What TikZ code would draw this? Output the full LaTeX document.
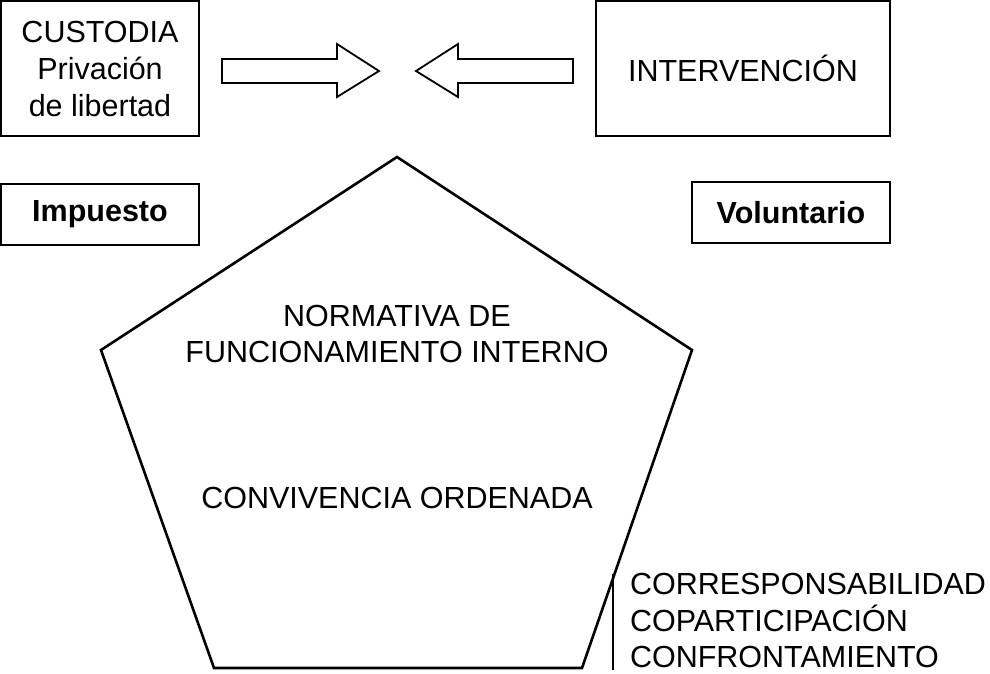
\documentclass[tikz,border=0pt]{standalone}
\usepackage{fontspec}
\setmainfont{Liberation Sans}
\begin{document}
\begin{tikzpicture}[x=1pt,y=-1pt,
  box/.style={draw,line width=2pt,inner sep=0pt,outer sep=0pt,align=center,
    font=\fontsize{30.5}{37}\selectfont},
  boldbox/.style={box,font=\fontsize{30.5}{37}\selectfont\bfseries},
  txt/.style={inner sep=0pt,outer sep=0pt,font=\fontsize{30.5}{36.5}\selectfont},
  bigarrow/.style={draw,line width=1.8pt,line join=miter}]
\useasboundingbox (0,0) rectangle (990,673);

% top boxes
\node[box,minimum width=198pt,minimum height=135pt] (custodia) at (100,68.5)
  {CUSTODIA\\Privación\\de libertad};
\node[box,minimum width=294pt,minimum height=135pt] (interv) at (743,68.5)
  {INTERVENCIÓN};
\node[boldbox,minimum width=198pt,minimum height=61pt] (impuesto) at (100,214.5)
  {Impuesto};
\node[boldbox,minimum width=198pt,minimum height=61pt] (volunt) at (791,212.5)
  {Voluntario};

% block arrows
\draw[bigarrow] (222,59) -- (337,59) -- (337,44) -- (379,71) -- (337,97) -- (337,83) -- (222,83) -- cycle;
\draw[bigarrow] (573,59) -- (458,59) -- (458,44) -- (416,71) -- (458,97) -- (458,83) -- (573,83) -- cycle;

% pentagon
\coordinate (pt) at (397,157);
\coordinate (pr) at (692,350);
\coordinate (pbr) at (582,668);
\coordinate (pbl) at (214,668);
\coordinate (pl) at (101,350);
\draw[line width=2.6pt,line join=miter] (pt) -- (pr) -- (pbr) -- (pbl) -- (pl) -- cycle;

\node[txt,align=center] (normativa) at (397,334)
  {NORMATIVA DE\\FUNCIONAMIENTO INTERNO};
\node[txt] (conviv) at (397,498) {CONVIVENCIA ORDENADA};

% side list
\coordinate (vtop) at (613,574);
\coordinate (vbot) at (613,670);
\draw[line width=1.3pt] (vtop) -- (vbot);
\node[txt,align=left,anchor=west] (lista) at (630,620.5)
  {CORRESPONSABILIDAD\\COPARTICIPACIÓN\\CONFRONTAMIENTO};
\end{tikzpicture}
\end{document}
